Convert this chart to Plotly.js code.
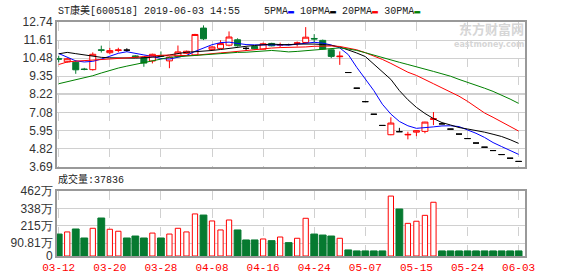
<!DOCTYPE html>
<html><head><meta charset="utf-8">
<script src="https://cdn.plot.ly/plotly-3.0.1.min.js"></script>
<style>html,body{margin:0;padding:0;background:#fff;}#chart{width:578px;height:276px;}</style>
</head><body><div id="chart"></div>
<script>
const dates = ['03-12','03-13','03-14','03-15','03-18','03-19','03-20','03-21','03-22','03-25','03-26','03-27','03-28','03-29','04-01','04-02','04-03','04-04','04-08','04-09','04-10','04-11','04-12','04-15','04-16','04-17','04-18','04-19','04-22','04-23','04-24','04-25','04-26','04-29','04-30','05-06','05-07','05-08','05-09','05-10','05-13','05-14','05-15','05-16','05-17','05-20','05-21','05-22','05-24','05-27','05-28','05-29','05-30','05-31','06-03'];
const openP  = [10.44,10.25,10.22,9.80,9.76,11.00,10.82,10.96,10.98,10.62,10.52,10.30,10.63,10.31,10.57,10.78,10.68,12.36,11.03,11.09,11.29,11.63,11.09,11.21,11.04,11.40,11.30,11.33,11.41,11.46,11.71,11.59,11.00,10.57,9.58,8.60,7.76,6.97,6.27,5.69,5.88,5.68,5.85,5.90,6.65,6.37,6.04,5.73,5.45,5.17,4.91,4.70,4.45,4.22,4.02];
const highP  = [10.63,10.50,10.35,9.87,10.84,11.26,11.12,11.13,11.10,10.66,10.55,10.76,10.90,10.58,11.27,10.95,12.00,12.53,11.22,11.60,12.15,11.72,11.18,11.24,11.45,11.44,11.45,11.38,11.52,12.42,11.98,11.64,11.02,10.90,9.58,8.60,7.76,6.97,6.27,6.78,6.12,5.88,5.96,6.50,7.11,6.37,6.04,5.73,5.45,5.17,4.91,4.70,4.45,4.22,4.02];
const lowP   = [10.22,10.20,9.50,9.72,9.70,10.83,10.72,10.84,10.88,10.50,9.94,10.15,10.55,9.85,10.55,10.74,10.65,11.61,10.98,11.05,11.22,11.20,10.94,11.03,11.02,11.22,11.16,11.28,11.21,11.44,11.48,11.02,10.48,10.06,9.58,8.60,7.76,6.97,6.27,5.66,5.88,5.40,5.60,5.78,6.29,6.37,6.04,5.73,5.45,5.17,4.91,4.70,4.45,4.22,4.02];
const closeP = [10.42,10.44,9.75,9.77,10.72,10.97,10.95,10.99,10.98,10.55,10.17,10.72,10.61,10.55,10.87,10.91,11.96,11.69,11.18,11.39,11.80,11.25,11.09,11.06,11.38,11.25,11.32,11.33,11.43,11.79,11.68,11.05,10.59,10.60,9.58,8.60,7.76,6.97,6.27,6.42,5.88,5.71,5.94,6.48,6.69,6.37,6.04,5.73,5.45,5.17,4.91,4.70,4.45,4.22,4.02];
const ma5  = [10.77,10.56,10.31,10.24,10.28,10.42,10.62,10.78,10.88,10.80,10.68,10.59,10.46,10.42,10.52,10.65,10.90,11.12,11.32,11.45,11.48,11.40,11.33,11.31,11.31,11.30,11.27,11.30,11.35,11.40,11.47,11.42,11.30,11.12,10.70,9.90,9.20,8.45,7.60,6.98,6.52,6.25,6.09,6.12,6.18,6.24,6.25,6.20,6.00,5.78,5.52,5.20,4.95,4.70,4.46];
const ma10 = [10.75,10.84,10.76,10.68,10.60,10.53,10.50,10.48,10.48,10.48,10.50,10.54,10.58,10.68,10.78,10.85,10.88,10.91,10.96,11.02,11.10,11.17,11.22,11.27,11.33,11.36,11.33,11.32,11.36,11.38,11.36,11.33,11.28,11.18,11.00,10.80,10.58,10.10,9.65,9.15,8.45,7.88,7.40,7.02,6.70,6.45,6.30,6.14,6.05,5.96,5.85,5.72,5.58,5.38,5.15];
const ma20 = [10.08,10.24,10.29,10.32,10.34,10.38,10.43,10.46,10.50,10.53,10.58,10.63,10.66,10.67,10.65,10.64,10.66,10.72,10.77,10.81,10.85,10.91,10.97,11.02,11.07,11.11,11.14,11.15,11.15,11.18,11.22,11.25,11.24,11.21,11.12,11.00,10.82,10.62,10.40,10.15,9.85,9.60,9.40,9.12,8.88,8.62,8.38,8.10,7.78,7.40,7.05,6.78,6.50,6.20,5.92];
const ma30 = [8.88,9.00,9.10,9.22,9.38,9.55,9.72,9.86,9.98,10.10,10.22,10.34,10.42,10.53,10.57,10.60,10.64,10.69,10.72,10.76,10.82,10.84,10.85,10.90,10.94,10.96,10.92,10.87,10.90,10.94,10.99,11.05,11.09,11.12,11.05,10.96,10.82,10.66,10.50,10.36,10.22,10.08,9.95,9.80,9.65,9.50,9.35,9.15,8.95,8.78,8.60,8.40,8.18,7.92,7.65];
const volume = [156,171,192,128,197,270,190,176,128,142,128,163,128,156,197,171,299,291,249,185,256,185,114,114,121,109,135,95,126,268,156,149,142,126,43,36,36,36,36,426,334,232,247,289,382,36,36,36,36,36,36,36,36,36,36];
const priceTicks = [3.69,4.82,5.95,7.08,8.22,9.35,10.48,11.61,12.74];
const volTicks = [0,90.81,215,338,462];
const volTickText = ['0','90.81万','215万','338万','462万'];
const xTickLabels = ['03-12','03-20','03-28','04-08','04-16','04-24','05-07','05-15','05-24','06-03'];
const legendNames = ['5PMA','10PMA','20PMA','30PMA'];

const RED='#ff0000', GREEN='#067a30', GRID='#d0d0d0', FRAME='#999999';
const idx = dates.map((d,i)=>i);
const flat = idx.map(i=>closeP[i]===openP[i]);
const pick = (arr,cond)=>arr.map((v,i)=>cond(i)?v:null);
const tickvals = xTickLabels.map(t=>dates.indexOf(t));
const maColors = ['#0000ff','#000000','#ff0000','#008000'];
const maData = [ma5,ma10,ma20,ma30];

const traces = [];
maData.forEach((m,k)=>traces.push({type:'scatter',mode:'lines',x:idx,y:m,xaxis:'x',yaxis:'y',line:{color:maColors[k],width:1},hoverinfo:'skip'}));
traces.push({type:'candlestick',x:idx,xaxis:'x',yaxis:'y',
  open:pick(openP,i=>!flat[i]),high:pick(highP,i=>!flat[i]),low:pick(lowP,i=>!flat[i]),close:pick(closeP,i=>!flat[i]),
  increasing:{line:{color:RED,width:1},fillcolor:'#ffffff'},
  decreasing:{line:{color:GREEN,width:1},fillcolor:GREEN},whiskerwidth:0});
traces.push({type:'candlestick',x:idx,xaxis:'x',yaxis:'y',
  open:pick(openP,i=>flat[i]),high:pick(highP,i=>flat[i]),low:pick(lowP,i=>flat[i]),close:pick(closeP,i=>flat[i]),
  increasing:{line:{color:'#000',width:1},fillcolor:'#000'},
  decreasing:{line:{color:'#000',width:1},fillcolor:'#000'},whiskerwidth:0});
const up = idx.map(i=>closeP[i]>openP[i]);
traces.push({type:'bar',x:idx,y:volume,xaxis:'x2',yaxis:'y2',
  width:up.map(u=>u?0.62:0.8),
  marker:{color:up.map(u=>u?'#ffffff':GREEN),line:{color:up.map(u=>u?RED:GREEN),width:1}},hoverinfo:'skip'});

const legendHtml = legendNames.map((n,k)=>n+'<span style="color:'+maColors[k]+'">▬</span>').join(' ');
const xr=[-0.2,54.75];
const commonX = {range:xr,tickvals:tickvals,showgrid:true,gridcolor:GRID,griddash:'dash',gridwidth:1,
  showline:true,mirror:true,linecolor:FRAME,linewidth:2,zeroline:false,ticks:'',fixedrange:true};
const layout = {
  width:578,height:276,margin:{l:57,r:53,t:22,b:20},
  paper_bgcolor:'#fff',plot_bgcolor:'#fff',showlegend:false,
  boxgap:0.3,boxgroupgap:0,bargap:0.2,
  font:{family:'Liberation Sans, Arial, sans-serif',size:12,color:'#333'},
  xaxis:Object.assign({},commonX,{anchor:'y',showticklabels:false,rangeslider:{visible:false}}),
  xaxis2:Object.assign({},commonX,{anchor:'y2',matches:'x',ticktext:xTickLabels,
    tickfont:{family:'Liberation Mono, monospace',size:11,color:RED}}),
  yaxis:{domain:[0.3816,1],range:[priceTicks[0],priceTicks[priceTicks.length-1]],tickvals:priceTicks,
    ticktext:priceTicks.map(v=>v.toFixed(2)),showgrid:true,gridcolor:GRID,showline:true,mirror:true,
    linecolor:FRAME,linewidth:2,zeroline:false,ticks:'',tickfont:{size:12,color:'#333'},fixedrange:true},
  yaxis2:{domain:[0,0.2778],range:[volTicks[0],volTicks[volTicks.length-1]],tickvals:volTicks,ticktext:volTickText,
    showgrid:true,gridcolor:GRID,showline:true,mirror:true,linecolor:FRAME,linewidth:2,zeroline:false,ticks:'',
    tickfont:{size:12,color:'#333'},fixedrange:true},
  shapes:[{type:'line',xref:'paper',x0:0,x1:1,yref:'y',y0:priceTicks[4],y1:priceTicks[4],line:{color:'#a0a0a0',width:1.5},layer:'below'}],
  annotations:[
    {xref:'paper',yref:'paper',x:-0.003,y:1.051,xanchor:'left',yanchor:'middle',showarrow:false,
     text:'ST康美[600518] 2019-06-03 14:55    '+legendHtml,font:{family:'Liberation Mono, Noto Sans CJK SC, monospace',size:10,color:'#222'}},
    {xref:'paper',yref:'paper',x:-0.003,y:0.325,xanchor:'left',yanchor:'middle',showarrow:false,
     text:'成交量:37836',font:{family:'Liberation Mono, Noto Sans CJK SC, monospace',size:10,color:'#222'}},
    {xref:'paper',yref:'paper',x:1,y:0.972,xanchor:'right',yanchor:'middle',showarrow:false,borderpad:0,
     text:'<b>东方财富网</b>',font:{family:'Noto Sans CJK SC, sans-serif',size:13,color:'#d6d6d6'}},
    {xref:'paper',yref:'paper',x:1,y:0.905,xanchor:'right',yanchor:'middle',showarrow:false,borderpad:0,
     text:'<b>eastmoney.com</b>',font:{family:'DejaVu Sans, sans-serif',size:8,color:'#d6d6d6'}}
  ]
};
Plotly.newPlot('chart',traces,layout,{staticPlot:true,displayModeBar:false});
</script></body></html>
